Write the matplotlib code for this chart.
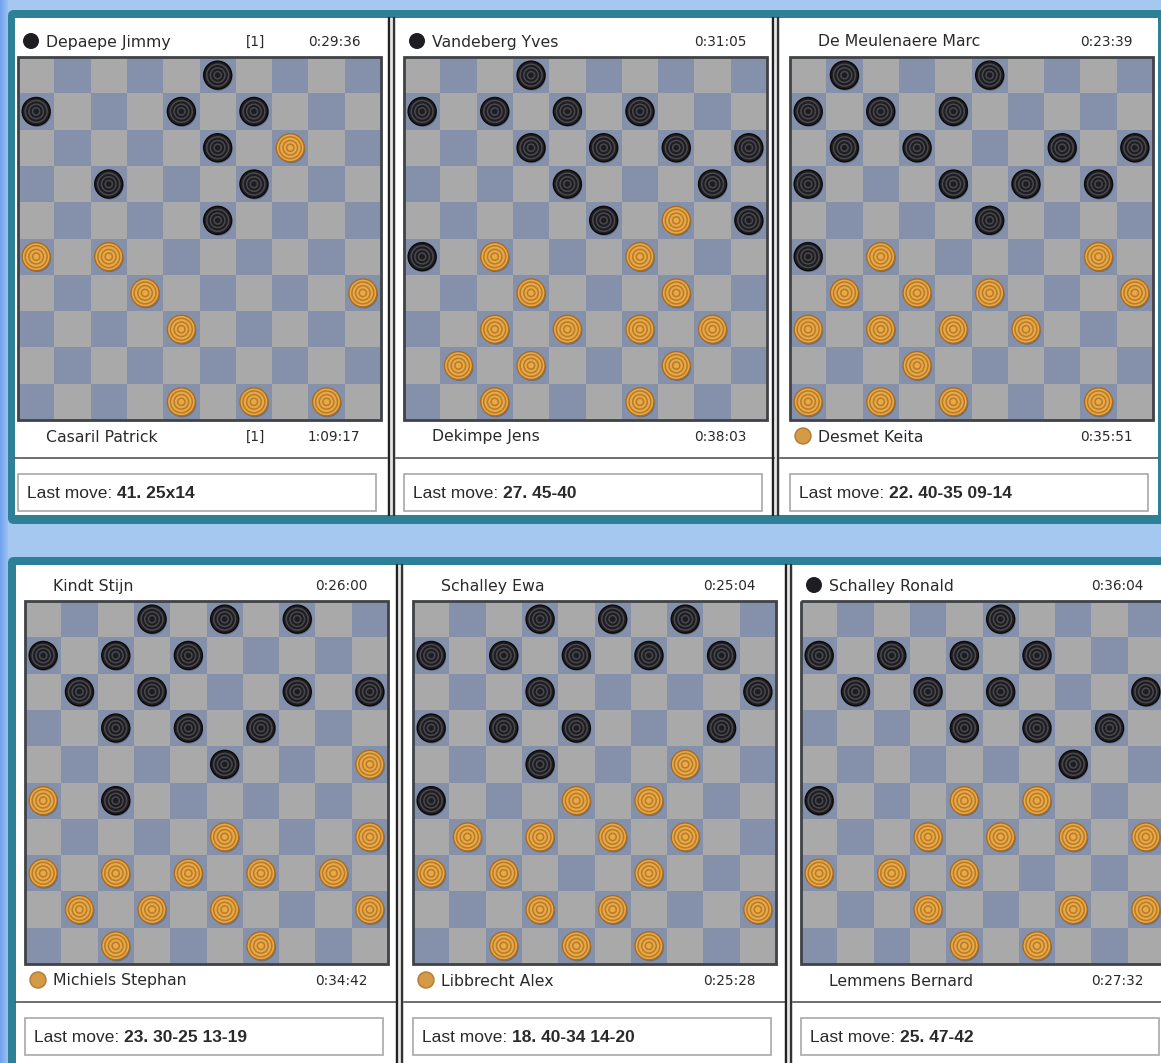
import matplotlib
matplotlib.use('Agg')
import matplotlib.pyplot as plt
from matplotlib.patches import Rectangle, Circle, FancyBboxPatch

# players, clocks and last moves for the six boards
top_names = ['Depaepe Jimmy', 'Vandeberg Yves', 'De Meulenaere Marc',
             'Kindt Stijn', 'Schalley Ewa', 'Schalley Ronald']
bottom_names = ['Casaril Patrick', 'Dekimpe Jens', 'Desmet Keita',
                'Michiels Stephan', 'Libbrecht Alex', 'Lemmens Bernard']
top_times = ['0:29:36', '0:31:05', '0:23:39', '0:26:00', '0:25:04', '0:36:04']
bottom_times = ['1:09:17', '0:38:03', '0:35:51', '0:34:42', '0:25:28', '0:27:32']
top_marks = ['[1]', '', '', '', '', '']
bottom_marks = ['[1]', '', '', '', '', '']
to_move = ['top', 'top', 'bottom', 'bottom', 'bottom', 'top']
last_moves = ['41. 25x14', '27. 45-40', '22. 40-35 09-14',
              '23. 30-25 13-19', '18. 40-34 14-20', '25. 47-42']

# piece positions as (row, col), row 0 at the top
black_pieces = [
    [(0, 5), (1, 0), (1, 4), (1, 6), (2, 5), (3, 2), (3, 6), (4, 5)],
    [(0, 3), (1, 0), (1, 2), (1, 4), (1, 6), (2, 3), (2, 5), (2, 7), (2, 9),
     (3, 4), (3, 8), (4, 5), (4, 9), (5, 0)],
    [(0, 1), (0, 5), (1, 0), (1, 2), (1, 4), (2, 1), (2, 3), (2, 7), (2, 9),
     (3, 0), (3, 4), (3, 6), (3, 8), (4, 5), (5, 0)],
    [(0, 3), (0, 5), (0, 7), (1, 0), (1, 2), (1, 4), (2, 1), (2, 3), (2, 7),
     (2, 9), (3, 2), (3, 4), (3, 6), (4, 5), (5, 2)],
    [(0, 3), (0, 5), (0, 7), (1, 0), (1, 2), (1, 4), (1, 6), (1, 8), (2, 3),
     (2, 9), (3, 0), (3, 2), (3, 4), (3, 8), (4, 3), (5, 0)],
    [(0, 5), (1, 0), (1, 2), (1, 4), (1, 6), (2, 1), (2, 3), (2, 5), (2, 9),
     (3, 4), (3, 6), (3, 8), (4, 7), (5, 0)],
]
white_pieces = [
    [(2, 7), (5, 0), (5, 2), (6, 3), (6, 9), (7, 4), (9, 4), (9, 6), (9, 8)],
    [(4, 7), (5, 2), (5, 6), (6, 3), (6, 7), (7, 2), (7, 4), (7, 6), (7, 8),
     (8, 1), (8, 3), (8, 7), (9, 2), (9, 6)],
    [(5, 2), (5, 8), (6, 1), (6, 3), (6, 5), (6, 9), (7, 0), (7, 2), (7, 4),
     (7, 6), (8, 3), (9, 0), (9, 2), (9, 4), (9, 8)],
    [(4, 9), (5, 0), (6, 5), (6, 9), (7, 0), (7, 2), (7, 4), (7, 6), (7, 8),
     (8, 1), (8, 3), (8, 5), (8, 9), (9, 2), (9, 6)],
    [(4, 7), (5, 4), (5, 6), (6, 1), (6, 3), (6, 5), (6, 7), (7, 0), (7, 2),
     (7, 6), (8, 3), (8, 5), (8, 9), (9, 2), (9, 4), (9, 6)],
    [(5, 4), (5, 6), (6, 3), (6, 5), (6, 7), (6, 9), (7, 0), (7, 2), (7, 4),
     (8, 3), (8, 7), (8, 9), (9, 4), (9, 6)],
]

# layout (pixels)
board_x = [18, 404, 790, 25, 413, 801]
board_y = [57, 57, 57, 601, 601, 601]
sq = 36.3
panel_spans = [(15, 387), (396, 774), (780, 1158), (16, 396), (404, 786), (793, 1161)]

LIGHT, DARK = '#a9a9a9', '#8591ab'
TEAL = '#2e8097'
INK = '#2a2a2a'

fig = plt.figure(figsize=(11.61, 10.63), dpi=100)
fig.patch.set_facecolor('#a5c8f1')
ax = fig.add_axes([0, 0, 1, 1])
ax.set_xlim(0, 1161)
ax.set_ylim(1063, 0)
ax.axis('off')

# soft left edge of the page background
for i in range(8):
    ax.add_patch(Rectangle((i, 0), 1, 1063, color='#6c9ff0', alpha=0.9 - i * 0.1, lw=0))

# teal frames for each row (rounded corners)
ax.add_patch(FancyBboxPatch((8, 10), 1170, 514, boxstyle='round,pad=0,rounding_size=6',
                            color=TEAL, lw=0))
ax.add_patch(FancyBboxPatch((8, 557), 1170, 530, boxstyle='round,pad=0,rounding_size=6',
                            color=TEAL, lw=0))


def draw_piece(cx, cy, r, kind):
    if kind == 'b':
        base, ring, edge = '#1e1e22', '#48484e', '#0a0a0a'
    else:
        base, ring, edge = '#e8a947', '#b97a2a', '#a96c22'
    ax.add_patch(Circle((cx + 1, cy + 1.5), r, color='#000000', alpha=0.22, lw=0))
    ax.add_patch(Circle((cx, cy), r, fc=base, ec=edge, lw=1))
    for f in (0.78, 0.52, 0.26):
        ax.add_patch(Circle((cx, cy), r * f, fill=False, ec=ring, lw=1.1))


for i in range(6):
    x0, y0 = board_x[i], board_y[i]
    pl, pr = panel_spans[i]
    ptop = 18 if i < 3 else 565
    pbot = 515 if i < 3 else 1063
    ax.add_patch(Rectangle((pl, ptop), pr - pl, pbot - ptop, color='white', lw=0))
    # double separator line on the left of inner panels
    if i not in (0, 3):
        ax.add_patch(Rectangle((pl - 9, ptop), 9, pbot - ptop, color='#e6e6e6', lw=0))
        ax.plot([pl - 7.5, pl - 7.5], [ptop, pbot], color='#222222', lw=1.6)
        ax.plot([pl - 2.5, pl - 2.5], [ptop, pbot], color='#333333', lw=1.6)

    # board squares
    for r in range(10):
        for c in range(10):
            col = DARK if (r + c) % 2 else LIGHT
            ax.add_patch(Rectangle((x0 + c * sq, y0 + r * sq), sq, sq, color=col, lw=0))
    ax.add_patch(Rectangle((x0, y0), 10 * sq, 10 * sq, fill=False, ec='#3f4347', lw=2))

    for r, c in black_pieces[i]:
        draw_piece(x0 + (c + 0.5) * sq, y0 + (r + 0.5) * sq, 14, 'b')
    for r, c in white_pieces[i]:
        draw_piece(x0 + (c + 0.5) * sq, y0 + (r + 0.5) * sq, 14, 'w')

    # player rows
    ty = y0 - 15
    by = y0 + 10 * sq + 17
    for y, name, tm, mk, side in [(ty, top_names[i], top_times[i], top_marks[i], 'top'),
                                  (by, bottom_names[i], bottom_times[i], bottom_marks[i], 'bottom')]:
        ax.text(x0 + 28, y, name, fontsize=11.3, color=INK, va='center', ha='left',
                family='DejaVu Sans')
        ax.text(x0 + 316, y, tm, fontsize=9.8, color=INK, va='center', ha='center',
                family='DejaVu Sans')
        if mk:
            ax.text(x0 + 238, y, mk, fontsize=9.8, color=INK, va='center', ha='center',
                    family='DejaVu Sans')
        if to_move[i] == side:
            if side == 'top':
                ax.add_patch(Circle((x0 + 13, y - 1), 8, color='#1e1e22', lw=0))
            else:
                ax.add_patch(Circle((x0 + 13, y - 1), 8, fc='#d49a48', ec='#b07a30', lw=1))

    # divider and last move box
    ly = y0 + 10 * sq + 38
    ax.plot([pl, pr], [ly, ly], color='#555555', lw=1.2)
    bx_top = ly + 16
    ax.add_patch(Rectangle((x0, bx_top), 358, 37, fc='white', ec='#a8a8a8', lw=1.2))
    t = ax.text(x0 + 9, bx_top + 19, 'Last move: ', fontsize=12.5, color=INK,
                va='center', ha='left', family='Liberation Sans')
    ax.annotate(last_moves[i], xy=(1, 0.5), xycoords=t, va='center', ha='left',
                fontsize=12.5, fontweight='bold', color=INK, family='Liberation Sans')

fig.savefig('out.png', dpi=100, facecolor=fig.get_facecolor())
